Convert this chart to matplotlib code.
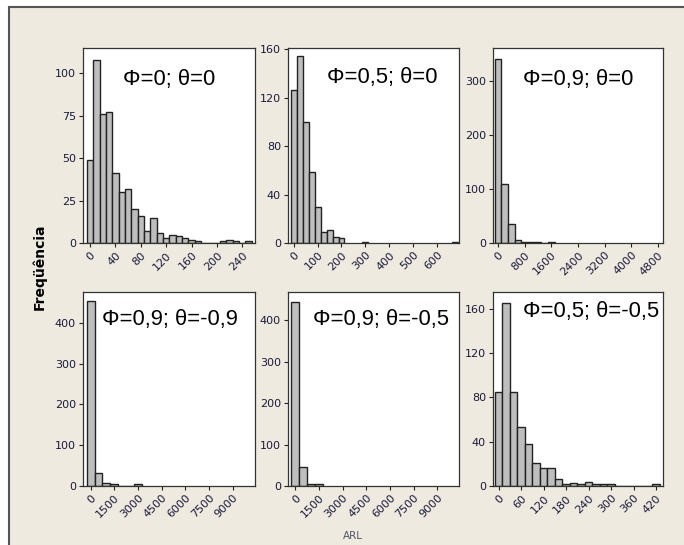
import matplotlib.pyplot as plt
from matplotlib.patches import Rectangle

# bin centres and counts
p1_bins = [0, 10, 20, 30, 40, 50, 60, 70, 80, 90, 100, 110, 120, 130, 140, 150, 160, 170, 180, 190, 200, 210, 220, 230, 240, 250]
p1_counts = [49, 108, 76, 77, 41, 30, 32, 20, 16, 7, 15, 6, 3, 5, 4, 3, 2, 1, 0, 0, 0, 1, 2, 1, 0, 1]

p2_bins = [0, 25, 50, 75, 100, 125, 150, 175, 200, 300, 675]
p2_counts = [126, 154, 100, 59, 30, 9, 11, 5, 4, 1, 1]

p3_bins = [0, 200, 400, 600, 800, 1000, 1200, 1400, 1600]
p3_counts = [341, 110, 36, 5, 2, 2, 1, 0, 2]

p4_bins = [0, 500, 1000, 1500, 2000, 2500, 3000]
p4_counts = [453, 31, 7, 4, 0, 0, 5]

p5_bins = [0, 500, 1000, 1500]
p5_counts = [445, 45, 5, 4]

p6_bins = [0, 20, 40, 60, 80, 100, 120, 140, 160, 180, 200, 220, 240, 260, 280, 300, 320, 340, 360, 380, 400, 420]
p6_counts = [85, 165, 85, 53, 38, 21, 16, 16, 6, 2, 3, 2, 4, 2, 2, 2, 0, 0, 0, 0, 0, 2]

titles = ["Φ=0; θ=0", "Φ=0,5; θ=0", "Φ=0,9; θ=0",
          "Φ=0,9; θ=-0,9", "Φ=0,9; θ=-0,5", "Φ=0,5; θ=-0,5"]
bin_widths = [10, 25, 200, 500, 500, 20]
xticks = [[0, 40, 80, 120, 160, 200, 240],
          [0, 100, 200, 300, 400, 500, 600],
          [0, 800, 1600, 2400, 3200, 4000, 4800],
          [0, 1500, 3000, 4500, 6000, 7500, 9000],
          [0, 1500, 3000, 4500, 6000, 7500, 9000],
          [0, 60, 120, 180, 240, 300, 360, 420]]
yticks = [[0, 25, 50, 75, 100],
          [0, 40, 80, 120, 160],
          [0, 100, 200, 300],
          [0, 100, 200, 300, 400],
          [0, 100, 200, 300, 400],
          [0, 40, 80, 120, 160]]
xlims = [(-11, 260), (-24, 692), (-150, 4950), (-480, 10400), (-460, 10380), (-15, 438)]
ylims = [(0, 115), (0, 161), (0, 362), (0, 476), (0, 468), (0, 175)]

bins = [p1_bins, p2_bins, p3_bins, p4_bins, p5_bins, p6_bins]
counts = [p1_counts, p2_counts, p3_counts, p4_counts, p5_counts, p6_counts]

W, H = 684, 545
fig = plt.figure(figsize=(W / 100, H / 100), dpi=100)
fig.patch.set_facecolor("white")

# beige panel with dark frame, like the Minitab window
bg = Rectangle((9 / W, -0.1), 1.2, (H - 7) / H + 0.1, transform=fig.transFigure,
               facecolor="#EEEAE0", edgecolor="#555555", linewidth=1.5, zorder=-10)
fig.patches.append(bg)

# axes boxes in pixels: left, right, top, bottom
cols = [(83, 255), (288, 459), (493, 663)]
rows = [(48, 243), (292, 486)]
# text position (pixel left, pixel centre y)
text_pos = [(123, 79), (327, 78), (523, 79), (102, 319), (313, 319), (523, 311)]

tick_color = "#1a1a3a"
for i in range(6):
    r, c = divmod(i, 3)
    x0, x1 = cols[c]
    top, bot = rows[r]
    ax = fig.add_axes([x0 / W, (H - bot) / H, (x1 - x0) / W, (bot - top) / H])
    ax.bar(bins[i], counts[i], width=bin_widths[i], color="#BEBEBE",
           edgecolor="#222222", linewidth=1.0)
    ax.set_xlim(xlims[i])
    ax.set_ylim(ylims[i])
    ax.set_xticks(xticks[i])
    ax.set_yticks(yticks[i])
    ax.tick_params(length=3, width=0.8, labelsize=8, colors="#222222",
                   labelcolor=tick_color, pad=2)
    for lab in ax.get_xticklabels():
        lab.set_rotation(45)
        lab.set_ha("right")
        lab.set_rotation_mode("anchor")
    for sp in ax.spines.values():
        sp.set_linewidth(0.9)
        sp.set_color("#333333")
    tx, ty = text_pos[i]
    fig.text(tx / W, (H - ty) / H, titles[i], fontsize=15.8, ha="left", va="center",
             family=["Liberation Sans", "DejaVu Sans"], color="black")

fig.text(40 / W, (H - 267) / H, "Freqüência", rotation=90, fontsize=10,
         fontweight="bold", ha="center", va="center")
fig.text(353 / W, (H - 536) / H, "ARL", fontsize=7.5, color="#555566",
         ha="center", va="center")

fig.savefig("out.png", dpi=100)
